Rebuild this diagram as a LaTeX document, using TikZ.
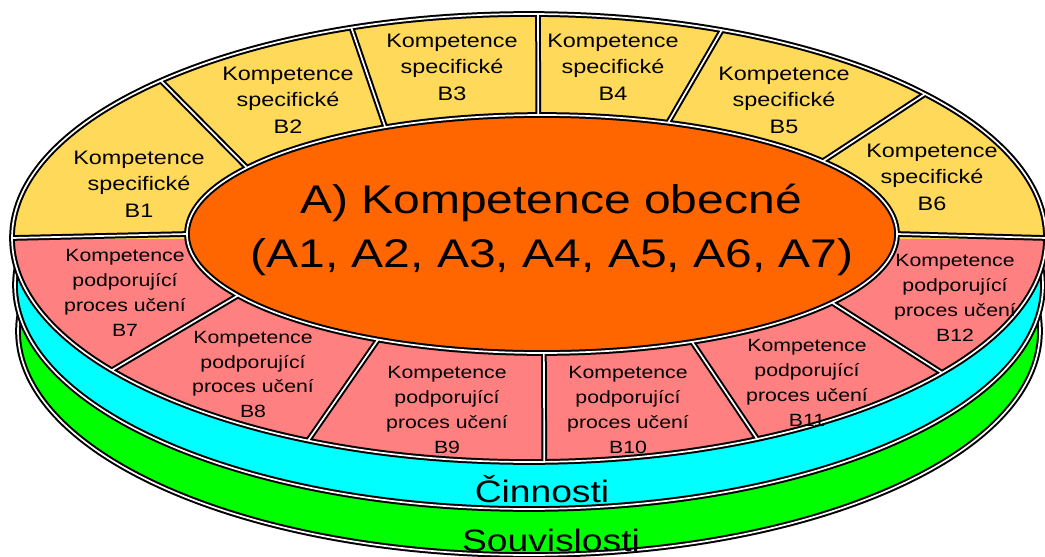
\documentclass[tikz,border=0pt]{standalone}
\usepackage{fontspec}
\newfontfamily\af[FakeStretch=1.2]{Liberation Sans}
\usetikzlibrary{calc}
\definecolor{segY}{HTML}{FFD95A}
\definecolor{segR}{HTML}{FF8080}
\definecolor{coreO}{HTML}{FF6600}
\definecolor{bandC}{HTML}{00FFFF}
\definecolor{bandG}{HTML}{00FF00}
\begin{document}
\begin{tikzpicture}[x=1pt,y=-1pt,
  dbl/.style={draw=black,line width=2pt,double=white,double distance=1.7pt},
  ytxt/.style={font=\af\fontsize{19.5}{26.5}\selectfont,align=center,inner sep=0pt},
  rtxt/.style={font=\af\fontsize{17.7}{24.8}\selectfont,align=center,inner sep=0pt},
  bigtxt/.style={font=\af\fontsize{40}{54}\selectfont,anchor=base,inner sep=0pt},
  bandtxt/.style={font=\af\fontsize{31}{37}\selectfont,anchor=base,inner sep=0pt}]
\useasboundingbox (0,0) rectangle (1045,557);
\clip (0,0) rectangle (1045,557);
% centres
\coordinate (oc) at (529,238);
\coordinate (ic) at (542,234);
% lower layers
\draw[dbl,fill=bandG] (529,331) ellipse [x radius=511, y radius=224];
\draw[dbl,fill=bandC] (529,285) ellipse [x radius=514, y radius=224];
% top face
\fill[segR] (oc) ellipse [x radius=517, y radius=224];
\begin{scope}
  \clip (0,0) rectangle (1045,238);
  \fill[segY] (oc) ellipse [x radius=517, y radius=224];
\end{scope}
\fill[coreO] (ic) ellipse [x radius=355, y radius=119];
% divider end points
\foreach \n/\to/\ti in {L/180/180, R/0/0, d12/224.6/213.8, d23/249.9/243.8,
  d34/271.0/269.4, d45/291.9/290.8, d56/320.0/322.3, d78/143.8/148.9,
  d89/115.3/117.5, d910/88.3/89.7, d1011/63.8/65.0, d1112/37.0/35.2}{
  \coordinate (o\n) at ($(oc)+(\to:517 and 224)$);
  \coordinate (i\n) at ($(ic)+(\ti:355 and 119)$);
}
\draw[dbl] (oc) ellipse [x radius=517, y radius=224]
  (ic) ellipse [x radius=355, y radius=119]
  (oL) -- (iL) (oR) -- (iR)
  (od12) -- (id12) (od23) -- (id23) (od34) -- (id34) (od45) -- (id45)
  (od56) -- (id56) (od78) -- (id78) (od89) -- (id89) (od910) -- (id910)
  (od1011) -- (id1011) (od1112) -- (id1112);
% texts
\node[ytxt] (b1) at (139,184) {Kompetence\\specifické\\B1};
\node[ytxt] (b2) at (288,100) {Kompetence\\specifické\\B2};
\node[ytxt] (b3) at (452,67) {Kompetence\\specifické\\B3};
\node[ytxt] (b4) at (613,67) {Kompetence\\specifické\\B4};
\node[ytxt] (b5) at (784,100) {Kompetence\\specifické\\B5};
\node[ytxt] (b6) at (932,177) {Kompetence\\specifické\\B6};
\node[rtxt] (b7) at (125,293) {Kompetence\\podporující\\proces učení\\B7};
\node[rtxt] (b8) at (253,374.5) {Kompetence\\podporující\\proces učení\\B8};
\node[rtxt] (b9) at (447,410) {Kompetence\\podporující\\proces učení\\B9};
\node[rtxt] (b10) at (628,410) {Kompetence\\podporující\\proces učení\\B10};
\node[rtxt] (b11) at (807,383) {Kompetence\\podporující\\proces učení\\B11};
\node[rtxt] (b12) at (955,298) {Kompetence\\podporující\\proces učení\\B12};
\node[bigtxt] (a1) at (551,213) {A) Kompetence obecné};
\node[bigtxt] (a2) at (552,267) {(A1, A2, A3, A4, A5, A6, A7)};
\node[bandtxt] (cin) at (542,502) {Činnosti};
\node[bandtxt] (sou) at (551,551) {Souvislosti};
\end{tikzpicture}
\end{document}
